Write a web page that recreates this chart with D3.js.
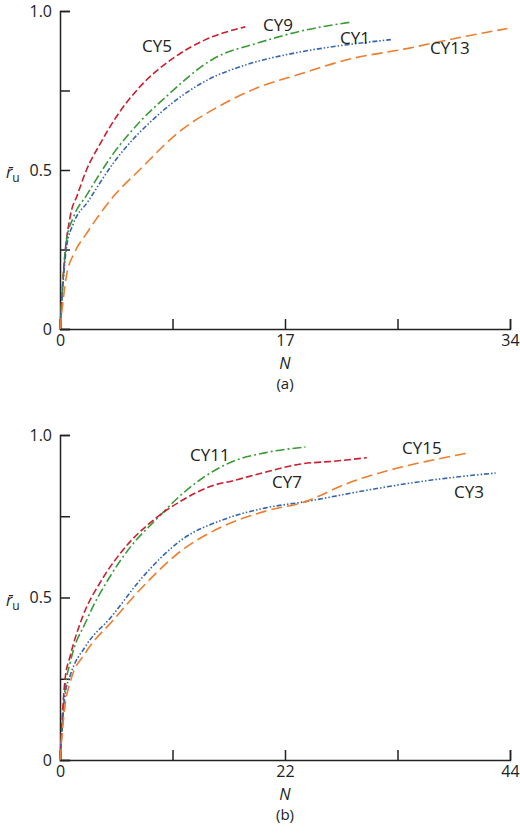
<!DOCTYPE html>
<html><head><meta charset="utf-8">
<script src="https://cdn.jsdelivr.net/npm/d3@7"></script>
<style>body{margin:0;background:#fff}text{font-family:"Open Sans",sans-serif;fill:#222}</style>
</head><body><svg id="c" width="520" height="836"></svg>
<script>
const CY5=[[0,0],[0.3,0.2],[0.8,0.36],[1.3,0.42],[2,0.5],[3,0.58],[4.3,0.67],[6,0.76],[8.5,0.85],[11,0.91],[14,0.95]];
const CY9=[[0,0],[0.5,0.28],[1,0.35],[2,0.42],[4,0.55],[6,0.65],[8,0.73],[11.6,0.85],[15,0.9],[18,0.935],[22,0.965]];
const CY1=[[0,0],[0.5,0.26],[1,0.33],[2.1,0.4],[4,0.52],[7.6,0.68],[11,0.78],[14,0.83],[18,0.87],[21,0.89],[25,0.91]];
const CY13=[[0,0],[0.5,0.17],[1.1,0.24],[2,0.3],[4,0.415],[6,0.5],[9,0.62],[12,0.7],[15,0.76],[18,0.8],[22,0.85],[26,0.88],[30,0.915],[33.8,0.945]];
const CY11=[[0,0],[0.5,0.22],[1,0.3],[2.6,0.43],[5,0.57],[7,0.66],[9.4,0.74],[12,0.82],[13.6,0.86],[17,0.92],[20,0.945],[24,0.963]];
const CY7=[[0,0],[0.5,0.25],[1,0.32],[2.2,0.44],[4,0.55],[6,0.64],[9.4,0.745],[12,0.8],[14.8,0.843],[17,0.86],[20,0.885],[23.4,0.91],[27,0.92],[30,0.93]];
const CY3=[[0,0],[0.5,0.2],[1,0.26],[2.5,0.35],[5,0.44],[8,0.56],[12,0.68],[16,0.74],[20,0.775],[24,0.795],[30,0.83],[36,0.86],[42.6,0.883]];
const CY15=[[0,0],[0.5,0.17],[1,0.24],[2.5,0.33],[5.2,0.43],[8,0.53],[11.7,0.64],[16,0.72],[20,0.765],[24,0.795],[28,0.85],[32,0.89],[36,0.92],[40,0.945]];
const xTicksA=[0,17,34], xTicksB=[0,22,44], yTicks=[0,0.5,1.0];
const RED="#c8202f",GREEN="#3a9a35",BLUE="#3565b0",ORANGE="#ee7d2e";
const DASH={red:"7,3",green:"9,3,2,3",blue:"5,2,1.5,2,1.5,2",orange:"11,5"};
const svg=d3.select("#c");
function panel(top,bottom,xmax,xt,series,labels,tag){
  const x=d3.scaleLinear().domain([0,xmax]).range([60,510]);
  const y=d3.scaleLinear().domain([0,1]).range([bottom,top]);
  const g=svg.append("g");
  const ax=g.append("g").attr("transform",`translate(0,${bottom})`)
    .call(d3.axisBottom(x).tickValues([0,xmax/4,xmax/2,3*xmax/4,xmax]).tickSize(-10).tickPadding(6)
      .tickFormat(d=>xt.includes(d)?d:""));
  const ay=g.append("g").attr("transform","translate(60,0)")
    .call(d3.axisLeft(y).tickValues([0,0.25,0.5,0.75,1]).tickSize(-10).tickPadding(8)
      .tickFormat(d=>d===0?"0":(d===0.5||d===1)?d.toFixed(1):""));
  [ax,ay].forEach(a=>{a.select(".domain").attr("stroke","#222").attr("stroke-width",1.5);
    a.selectAll("line").attr("stroke","#222").attr("stroke-width",1.5);
    a.selectAll("text").style("font-size","16px").attr("fill","#222");});
  const line=d3.line().x(d=>x(d[0])).y(d=>y(d[1])).curve(d3.curveMonotoneX);
  series.forEach(s=>g.append("path").datum(s.d).attr("d",line).attr("fill","none")
    .attr("stroke",s.c).attr("stroke-width",1.6).attr("stroke-dasharray",s.dash));
  labels.forEach(l=>g.append("text").attr("x",l[1]).attr("y",l[2]).style("font-size","17px").text(l[0]));
  g.append("text").attr("x",285).attr("y",bottom+40).attr("text-anchor","middle").style("font-size","16px").style("font-style","italic").text("N");
  g.append("text").attr("x",285).attr("y",bottom+60).attr("text-anchor","middle").style("font-size","15px").text(tag);
  const yl=g.append("text").attr("x",6).attr("y",y(0.5)+8).style("font-size","16px");
  yl.append("tspan").style("font-style","italic").text("r̄");
  yl.append("tspan").attr("dy",4).style("font-size","12px").text("u");
}
panel(11,329,34,xTicksA,[
 {d:CY5,c:RED,dash:DASH.red},{d:CY9,c:GREEN,dash:DASH.green},{d:CY1,c:BLUE,dash:DASH.blue},{d:CY13,c:ORANGE,dash:DASH.orange}],
 [["CY5",142,52],["CY9",263,31],["CY1",340,44],["CY13",430,54]],"(a)");
panel(435,760,44,xTicksB,[
 {d:CY11,c:GREEN,dash:DASH.green},{d:CY7,c:RED,dash:DASH.red},{d:CY3,c:BLUE,dash:DASH.blue},{d:CY15,c:ORANGE,dash:DASH.orange}],
 [["CY11",190,461],["CY7",272,488],["CY15",402,454],["CY3",454,498]],"(b)");
</script></body></html>
